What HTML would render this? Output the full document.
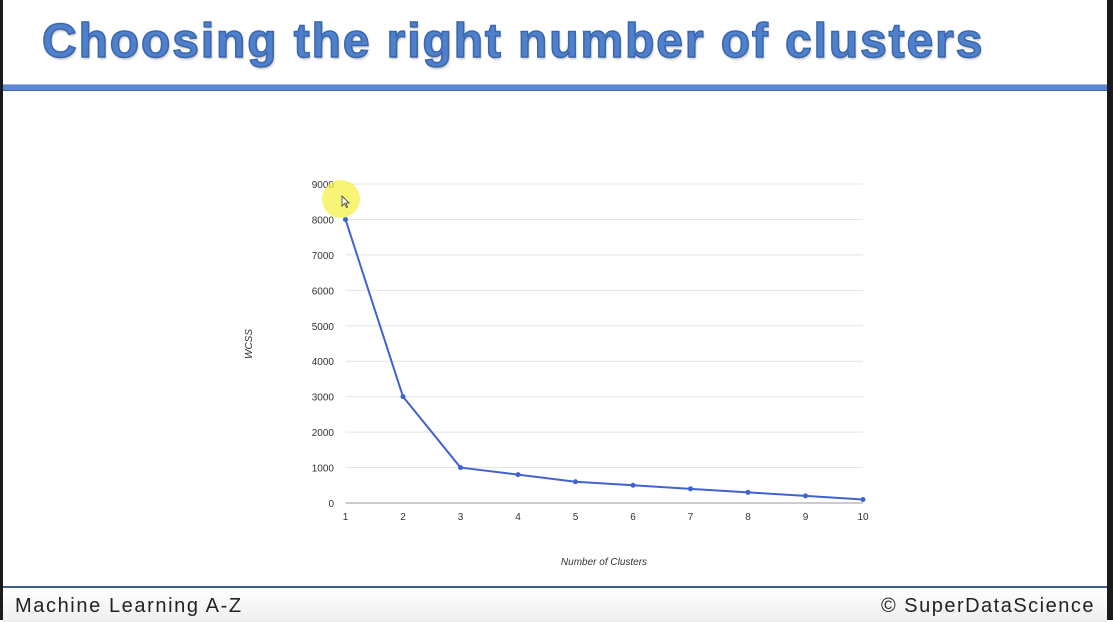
<!DOCTYPE html>
<html><head><meta charset="utf-8"><style>
body{margin:0;width:1113px;height:620px;overflow:hidden;background:#fff;position:relative;font-family:"Liberation Sans",sans-serif}
#lb{position:absolute;left:0;top:0;width:3px;height:620px;background:#1a1a1a}
#rb{position:absolute;left:1107px;top:0;width:6px;height:620px;background:#1a1a1a}
#title{position:absolute;left:42px;top:14px;font-size:48px;font-weight:bold;color:#4f80cc;-webkit-text-stroke:1.5px #3a66ab;letter-spacing:1.9px;text-shadow:1px 2px 2px rgba(0,0,0,0.25);white-space:nowrap}
#tline{position:absolute;left:3px;top:84px;width:1104px;height:7px;background:#5b86cf;border-top:1px solid #9fb8e3;border-bottom:1px solid #3f67ad;box-sizing:border-box}
#footer{position:absolute;left:3px;top:586px;width:1104px;height:34px;background:linear-gradient(#fff,#eee);border-top:2px solid #3e5e8c}
#fl{position:absolute;left:12px;top:7px;font-size:20px;color:#222;letter-spacing:1.6px}
#fr{position:absolute;right:12px;top:7px;font-size:20px;color:#222;letter-spacing:1.5px}
</style></head><body>
<div id="lb"></div>
<div id="rb"></div>
<div id="title">Choosing the right number of clusters</div>
<div id="tline"></div>
<svg id="chart" width="1113" height="620" style="position:absolute;left:0;top:0"></svg>
<div id="footer"><span id="fl">Machine Learning A-Z</span><span id="fr">© SuperDataScience</span></div>
<script>
const categories=[1,2,3,4,5,6,7,8,9,10];
const wcss=[8000,3000,1000,800,600,500,400,300,200,100];
const yTicks=[0,1000,2000,3000,4000,5000,6000,7000,8000,9000];
const NS="http://www.w3.org/2000/svg";
const svg=document.getElementById('chart');
const x0=345.5,x1=863,y0=503,y1=184;
const xs=c=>x0+(c-1)*(x1-x0)/9;
const ys=v=>y0-v*(y0-y1)/9000;
function mk(t,a){const e=document.createElementNS(NS,t);for(const k in a)e.setAttribute(k,a[k]);svg.appendChild(e);return e;}
yTicks.forEach(v=>{
const g=mk('line',{x1:x0,x2:x1,y1:ys(v),y2:ys(v),stroke:v===0?'#999':'#e4e4e4','stroke-width':1});


const t=mk('text',{x:334,y:ys(v)+4,'text-anchor':'end','font-size':10,fill:'#333','font-family':'Liberation Sans, sans-serif'});
t.textContent=v;


});
categories.forEach(c=>{
const t=mk('text',{x:xs(c),y:520,'text-anchor':'middle','font-size':10,fill:'#333','font-family':'Liberation Sans, sans-serif'});
t.textContent=c;


});
const pl=mk('polyline',{points:categories.map((c,i)=>xs(c)+','+ys(wcss[i])).join(' '),fill:'none',stroke:'#3f63d0','stroke-width':2});


categories.forEach((c,i)=>{
const p=mk('circle',{cx:xs(c),cy:ys(wcss[i]),r:2.5,fill:'#3f63d0'});


});
const xt=mk('text',{x:604,y:565,'text-anchor':'middle','font-size':10,'font-style':'italic',fill:'#333','font-family':'Liberation Sans, sans-serif'});
xt.textContent='Number of Clusters';


const yt=mk('text',{x:0,y:0,'text-anchor':'middle','font-size':10,'font-style':'italic',fill:'#333','font-family':'Liberation Sans, sans-serif',transform:'translate(252,344) rotate(-90)'});
yt.textContent='WCSS';


const hl=mk('circle',{cx:341,cy:199,r:19,fill:'rgba(245,240,60,0.7)'});


const cur=mk('path',{d:'M342 196 L342 206 L344.5 203.5 L346.5 207.5 L347.5 207 L345.8 203 L349 203 Z',fill:'#fff',stroke:'#333','stroke-width':0.8});


</script>
</body></html>
